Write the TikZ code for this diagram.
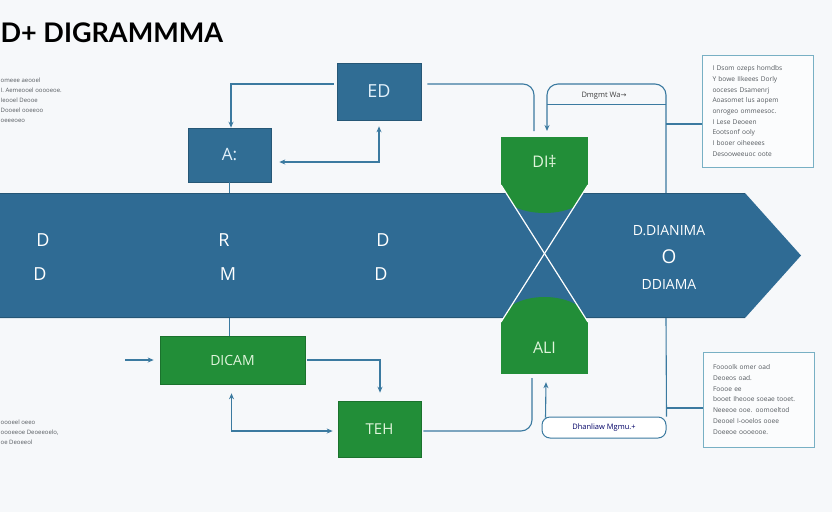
\documentclass[tikz,border=0pt]{standalone}
\usepackage{fontspec}
\setmainfont{Open Sans}
\newfontfamily\titlefont{Lato}
\newfontfamily\symfont{DejaVu Sans}
\usetikzlibrary{arrows.meta}
\definecolor{bg}{RGB}{246,248,250}
\definecolor{bandblue}{RGB}{47,107,148}
\definecolor{boxblue}{RGB}{48,109,148}
\definecolor{dgreen}{RGB}{34,142,56}
\definecolor{connc}{RGB}{59,122,160}
\definecolor{tbord}{RGB}{120,176,196}
\definecolor{ltext}{RGB}{85,90,95}
\definecolor{paleb}{RGB}{225,240,250}
\definecolor{paleg}{RGB}{225,245,220}
\begin{document}
\begin{tikzpicture}[x=1pt,y=-1pt,
  bluebox/.style={fill=boxblue, draw=boxblue!80!black, line width=0.6pt, text=paleb, inner sep=0pt},
  greenbox/.style={fill=dgreen, draw=dgreen!80!black, line width=0.6pt, text=paleg, inner sep=0pt},
  conn/.style={draw=connc, line width=1.1pt},
  arr/.style={conn, -{Stealth[length=6pt,width=5pt]}},
  darr/.style={conn, {Stealth[length=6pt,width=5pt]}-{Stealth[length=6pt,width=5pt]}},
  bandtext/.style={text=white, inner sep=0pt},
  tbox/.style={draw=tbord, line width=0.7pt, fill=white!60!bg, align=left, text=ltext, inner ysep=0pt,
     font=\fontsize{6.6}{10.7}\selectfont},
  smalltext/.style={align=left, text=ltext, inner sep=0pt, font=\fontsize{6}{10}\selectfont},
  lblbox/.style={draw=connc, line width=1pt, rounded corners=8pt, fill=white, inner sep=0pt}
]
\useasboundingbox (0,0) rectangle (832,512);
\fill[bg] (0,0) rectangle (832,512);

% title and side notes
\node[anchor=base west, inner sep=0pt, font=\titlefont\bfseries\fontsize{27}{27}\selectfont] (title) at (0.5,42) {D+ DIGRAMMMA};
\node[smalltext, anchor=west] (lt1) at (0.5,100) {omeee aeooel\\ I. Aemeooel ooooeoe.\\ Ieooel Deooe\\ Dooeel ooeeoo\\ oeeeoeo};
\node[smalltext, anchor=west] (lt2) at (0.5,432) {oooeel oeeo\\ oooeeoe Deoeeoelo,\\ oe Deoeeol};

% boxes
\node[bluebox, minimum width=84pt, minimum height=57pt, font=\fontsize{18}{18}\selectfont] (ED) at (379,91.5) {ED};
\node[bluebox, minimum width=83pt, minimum height=54pt, font=\fontsize{17}{17}\selectfont] (A) at (229.5,155) {A:};
\node[greenbox, minimum width=145pt, minimum height=48pt, font=\fontsize{14}{14}\selectfont] (DICAM) at (232.5,360) {DICAM};
\node[greenbox, minimum width=83pt, minimum height=56pt, font=\fontsize{15}{15}\selectfont] (TEH) at (379.5,429) {TEH};

% connectors behind the band
\draw[conn] (A.south) -- (A.south |- DICAM.north);
\coordinate (bandTopR) at (666,193);
\coordinate (bandBotR) at (666,318);

% band
\fill[bandblue] (-1,193) -- (745,193) -- (801,255.5) -- (745,318) -- (-1,318) -- cycle;
\draw[bandblue!80!black, line width=0.8pt] (-1,193.5) -- (745,193.5);
\draw[bandblue!80!black, line width=0.8pt] (-1,317.5) -- (745,317.5);

% green hourglass shapes
\begin{scope}
  \clip (501,137) -- (588,137) -- (588,185) -- (544.5,253.5) -- (501,185) -- cycle;
  \fill[dgreen] (501,137) rectangle (588,192);
  \fill[dgreen] (544.5,190) ellipse [x radius=44pt, y radius=23pt];
\end{scope}
\begin{scope}
  \clip (501,374) -- (588,374) -- (588,322) -- (544.5,253.5) -- (501,322) -- cycle;
  \fill[dgreen] (501,322) rectangle (588,374);
  \fill[dgreen] (544.5,322) ellipse [x radius=44pt, y radius=25pt];
\end{scope}
\draw[white, line width=1.2pt] (501,185) -- (588,322);
\draw[white, line width=1.2pt] (588,185) -- (501,322);
\node[inner sep=0pt, minimum width=87pt, minimum height=48pt, text=paleg, font=\fontsize{16}{16}\selectfont] (DI) at (544.5,161) {DI‡};
\node[inner sep=0pt, minimum width=87pt, minimum height=52pt, text=paleg, font=\fontsize{16}{16}\selectfont] (ALI) at (544.5,348) {ALI};

% band texts
\node[bandtext, font=\fontsize{18}{18}\selectfont] (b1) at (43,240) {D};
\node[bandtext, font=\fontsize{18}{18}\selectfont] (b2) at (40,274) {D};
\node[bandtext, font=\fontsize{18}{18}\selectfont] (b3) at (224,240) {R};
\node[bandtext, font=\fontsize{18}{18}\selectfont] (b4) at (228,274) {M};
\node[bandtext, font=\fontsize{18}{18}\selectfont] (b5) at (383,240) {D};
\node[bandtext, font=\fontsize{18}{18}\selectfont] (b6) at (381,274) {D};
\node[bandtext, font=\fontsize{14}{14}\selectfont] (b7) at (669,231) {D.DIANIMA};
\node[bandtext, font=\fontsize{19}{19}\selectfont] (b8) at (669,257) {O};
\node[bandtext, font=\fontsize{14}{14}\selectfont] (b9) at (669,284) {DDIAMA};

% top connectors
\draw[arr] ([xshift=-3pt,yshift=7.5pt]ED.west) -| ([xshift=1.5pt]A.north);
\draw[darr] ([xshift=8pt,yshift=-7pt]A.east) -| ([yshift=-6pt]ED.south);
\coordinate (diL) at (534,131);
\draw[conn, rounded corners=11pt] ([xshift=6pt,yshift=7.5pt]ED.east) -| (diL);
\coordinate (diArr) at (547,131);
\draw[arr, rounded corners=11pt] (bandTopR) -- (666,84) -- (547,84) -- (diArr);
\draw[conn, line width=0.8pt] (547,104) -- (666,104);
\node[inner sep=0pt, text=black!75, font=\fontsize{7.5}{7.5}\selectfont] (lblTop) at (604,96) {Dmgmt Wa{\symfont\fontsize{7}{7}\selectfont→}};

% bottom connectors
\coordinate (inL) at (125,360);
\draw[arr] (inL) -- ([xshift=-6pt]DICAM.west);
\draw[arr] ([xshift=2pt]DICAM.east) -| ([xshift=0.5pt,yshift=8pt]TEH.north);
\draw[darr] ([xshift=-5pt,yshift=-2pt]TEH.west) -| ([xshift=-1pt,yshift=-9pt]DICAM.south);
\draw[conn, rounded corners=11pt] ([xshift=2pt,yshift=-2pt]TEH.east) -| ([xshift=-12.5pt,yshift=-4pt]ALI.south);
\node[lblbox, minimum width=124pt, minimum height=21pt, text=blue!40!black, font=\fontsize{7.5}{7.5}\selectfont] (lblBot) at (604,427.5) {Dhanliaw Mgmu.+};
\draw[arr] ([xshift=4pt,yshift=-1pt]lblBot.north west) -- ([xshift=1.5pt,yshift=-8pt]ALI.south);
\draw[conn] (lblBot.north east) -- (bandBotR);

% right text boxes
\node[tbox, text width=91pt, inner xsep=10pt, minimum height=112pt] (tb1) at (758,111)
 {I Dsom ozeps homdbs\\ Y bowe IIkeees Dorly\\ ooceses Dsamenrj\\ Aoasomet lus aopem\\ onrogeo ommeesoc.\\ I Lese Deoeen\\ Eootsonf ooly\\ I booer oiheeees\\ Desooweeuoc oote};
\node[tbox, text width=91pt, inner xsep=10pt, minimum height=95pt] (tb2) at (758.5,399.5)
 {Foooolk omer oad\\ Deoeos oad.\\ Foooe ee\\ booet Iheooe soeae tooet.\\ Neeeoe ooe. oomoeltod\\ Deooel I-ooelos ooee\\ Doeeoe oooeooe.};
\coordinate (j1) at (666,124);
\coordinate (j2) at (666,408);
\draw[conn] (j1) -- (tb1.west |- j1);
\draw[conn] (j2) -- (tb2.west |- j2);
\end{tikzpicture}
\end{document}
